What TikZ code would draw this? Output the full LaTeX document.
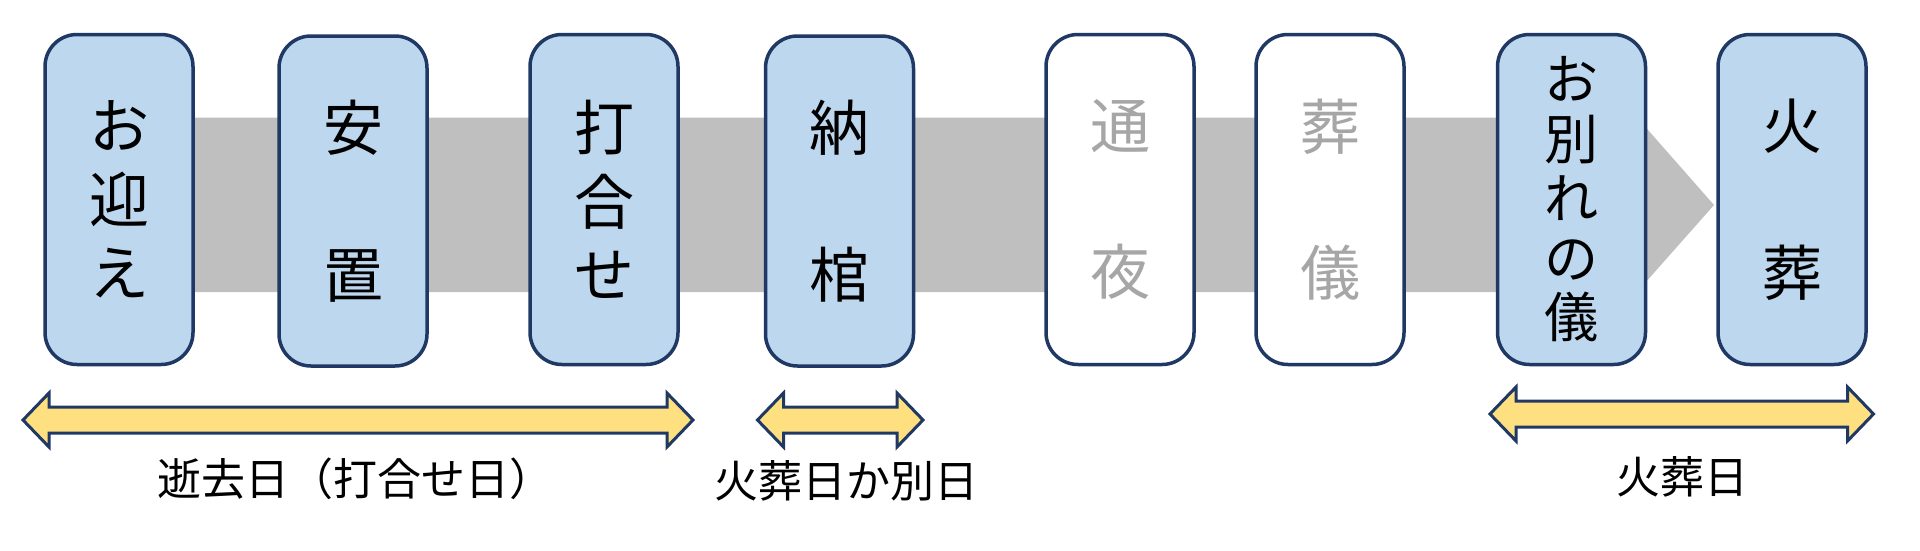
\documentclass[tikz,border=0pt]{standalone}
\usepackage{fontspec}
\setmainfont{Noto Sans CJK JP}
\usetikzlibrary{calc}
\definecolor{boxblue}{HTML}{BDD7EE}
\definecolor{navy}{HTML}{1F3864}
\definecolor{bandgray}{HTML}{BFBFBF}
\definecolor{textgray}{HTML}{A6A6A6}
\definecolor{dayyellow}{HTML}{FFE080}
\tikzset{
  stepbox/.style={draw=navy, line width=3.5pt, fill=boxblue, rounded corners=32pt,
    minimum width=148pt, minimum height=330pt, inner sep=0pt, align=center,
    font=\fontsize{60}{73.5}\selectfont},
  skipbox/.style={stepbox, fill=white, text=textgray},
  daylabel/.style={font=\fontsize{44}{50}\selectfont, inner sep=0pt}
}
% double arrow: (left x, right x, mid y)
\def\dayarrow(#1,#2,#3){\draw[draw=navy, line width=3pt, fill=dayyellow, line join=miter]
  (#1,#3) -- (#1+26,#3-27) -- (#1+26,#3-13) -- (#2-26,#3-13) -- (#2-26,#3-27) -- (#2,#3)
  -- (#2-26,#3+27) -- (#2-26,#3+13) -- (#1+26,#3+13) -- (#1+26,#3+27) -- cycle;}

\begin{document}
\begin{tikzpicture}[x=1pt, y=-1pt]
			%%%%% START %%%%%
			\useasboundingbox (0,0) rectangle (1920,550);
			
			\fill[bandgray] (120,117.5) -- (1637,117.5) -- (1714,205) -- (1637,292) -- (120,292) -- cycle;
			
			\node[stepbox] (omukae) at (119,199.5) {お\\迎\\え};
			\node[stepbox] (anchi) at (353,201) {安\\[73pt]置};
			\node[stepbox] (uchiawase) at (604,199.5) {打\\合\\せ};
			\node[stepbox] (nokan) at (839.5,201) {納\\[73pt]棺};
			\node[skipbox] (tsuya) at (1120,199.5) {通\\[73pt]夜};
			\node[skipbox] (sougi) at (1330,199.5) {葬\\[73pt]儀};
			\node[stepbox, font=\fontsize{54}{59.5}\selectfont] (owakare) at (1571.5,199.5) {お\\別\\れ\\の\\儀};
			\node[stepbox] (kasou) at (1792,199.5) {火\\[73pt]葬};
			
			\dayarrow(23,693,420)
			\dayarrow(757.5,923,420)
			\dayarrow(1490,1873.5,414)
			
			\node[daylabel] (seikyo) at (355,479) {逝去日（打合せ日）};
			\node[daylabel] (betsubi) at (846,481) {火葬日か別日};
			\node[daylabel] (kasoubi) at (1682.5,477) {火葬日};
			
			%%%%% END %%%%%
\end{tikzpicture}
\end{document}
